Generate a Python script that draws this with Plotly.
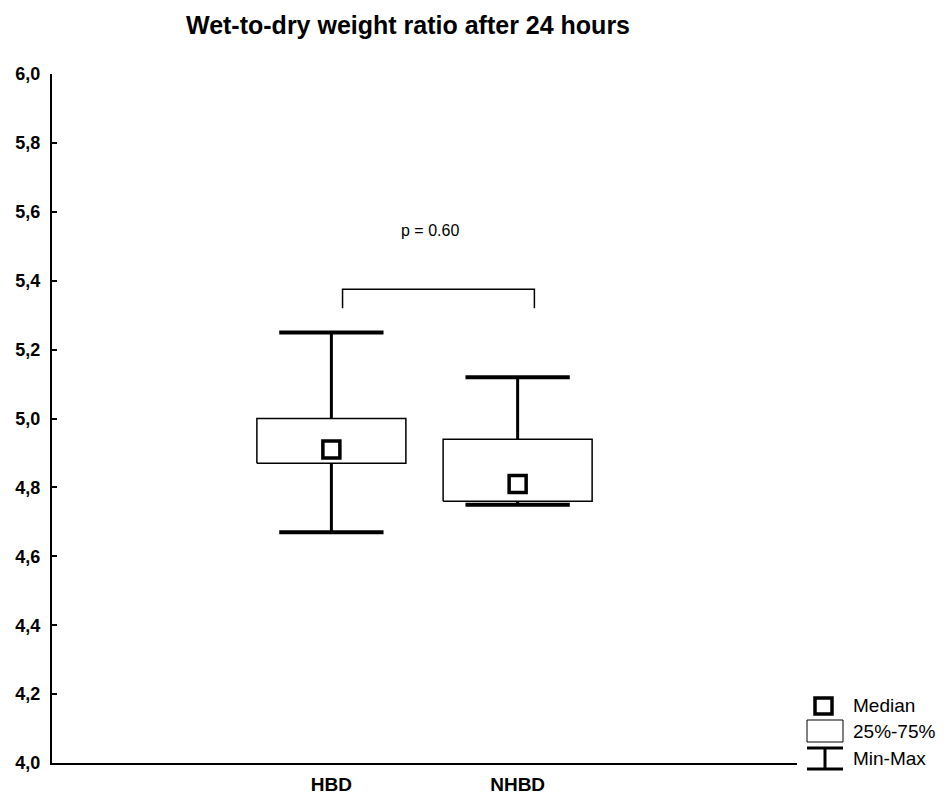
import plotly.graph_objects as go

categories = ["HBD", "NHBD"]
minimum = [4.67, 4.75]
q1 = [4.87, 4.76]
median = [4.91, 4.81]
q3 = [5.00, 4.94]
maximum = [5.25, 5.12]
y_tickvals = [4.0, 4.2, 4.4, 4.6, 4.8, 5.0, 5.2, 5.4, 5.6, 5.8, 6.0]
y_ticktext = ["4,0", "4,2", "4,4", "4,6", "4,8", "5,0", "5,2", "5,4", "5,6", "5,8", "6,0"]
p_text = "p = 0.60"
bracket_x = [0.06, 0.06, 1.09, 1.09]
bracket_y = [5.32, 5.375, 5.375, 5.32]

BOX_HALF = 0.4
CAP_HALF = 0.28
FONT = "Liberation Sans, Arial, sans-serif"

# page is rendered with an 8px body margin; figure coordinates = page - 8
OFF = 8

fig = go.Figure()
xs = list(range(len(categories)))

for i in xs:
    fig.add_trace(go.Scatter(x=[i, i, None, i, i], y=[q3[i], maximum[i], None, minimum[i], q1[i]],
                             mode="lines", line=dict(color="black", width=3), hoverinfo="skip",
                             showlegend=False))
    fig.add_trace(go.Scatter(x=[i - CAP_HALF, i + CAP_HALF, None, i - CAP_HALF, i + CAP_HALF],
                             y=[maximum[i], maximum[i], None, minimum[i], minimum[i]],
                             mode="lines", line=dict(color="black", width=4), hoverinfo="skip",
                             showlegend=False))
for i in xs:
    fig.add_trace(go.Scatter(x=[i - BOX_HALF, i + BOX_HALF, i + BOX_HALF, i - BOX_HALF, i - BOX_HALF],
                             y=[q1[i], q1[i], q3[i], q3[i], q1[i]],
                             mode="lines", fill="toself", fillcolor="white",
                             line=dict(color="black", width=1.5), hoverinfo="skip", showlegend=False))

fig.add_trace(go.Scatter(x=xs, y=median, mode="markers",
                         marker=dict(symbol="square", size=17, color="white",
                                     line=dict(color="black", width=3.5)),
                         showlegend=False))

fig.add_trace(go.Scatter(x=bracket_x, y=bracket_y, mode="lines",
                         line=dict(color="black", width=1.5), hoverinfo="skip", showlegend=False))

fig.add_annotation(x=0.527, y=5.546, xref="x", yref="y", text=p_text, showarrow=False,
                   font=dict(family=FONT, size=16, color="black"))

# custom legend (paper coords from page pixels)
def px(xp):
    return (xp - 52) / 745.0

def py(yp):
    return (763 - yp) / 689.0

shapes = [
    dict(type="rect", xref="paper", yref="paper", x0=px(815), x1=px(832), y0=py(714), y1=py(698),
         line=dict(color="black", width=3.5), fillcolor="white"),
    dict(type="rect", xref="paper", yref="paper", x0=px(807), x1=px(843), y0=py(742), y1=py(720),
         line=dict(color="black", width=1), fillcolor="white"),
    dict(type="line", xref="paper", yref="paper", x0=px(807), x1=px(843), y0=py(748), y1=py(748),
         line=dict(color="black", width=3)),
    dict(type="line", xref="paper", yref="paper", x0=px(807), x1=px(843), y0=py(769), y1=py(769),
         line=dict(color="black", width=3)),
    dict(type="line", xref="paper", yref="paper", x0=px(825), x1=px(825), y0=py(748), y1=py(769),
         line=dict(color="black", width=3)),
]
legend_labels = ["Median", "25%-75%", "Min-Max"]
legend_y = [705, 731, 758]
for lab, ly in zip(legend_labels, legend_y):
    fig.add_annotation(x=px(851), y=py(ly), xref="paper", yref="paper", text=lab, showarrow=False,
                       xanchor="left", yanchor="middle", font=dict(family=FONT, size=19, color="black"))

W, H = 946 - OFF, 798 - OFF
fig.update_layout(
    width=W, height=H, autosize=False,
    margin=dict(l=52 - OFF, r=946 - 797, t=74 - OFF, b=798 - 763, pad=0, autoexpand=False),
    paper_bgcolor="white", plot_bgcolor="white",
    shapes=shapes,
    title=dict(text="<b>Wet-to-dry weight ratio after 24 hours</b>", x=(408 - OFF) / W, xanchor="center",
               y=1 - (25 - OFF) / H, yanchor="middle", font=dict(family=FONT, size=25, color="black")),
    xaxis=dict(range=[-1.5, 2.5], tickvals=xs, ticktext=["<b>%s</b>" % c for c in categories],
               showline=True, linecolor="black", linewidth=2, ticks="", showgrid=False, zeroline=False,
               ticklabelstandoff=3, automargin=False,
               tickfont=dict(family=FONT, size=19, color="black")),
    yaxis=dict(range=[4.0, 6.0], tickvals=y_tickvals, ticktext=["<b>%s</b>" % t for t in y_ticktext],
               showline=True, linecolor="black", linewidth=2, ticks="inside", ticklen=5, tickwidth=1.5,
               tickcolor="black", showgrid=False, zeroline=False, ticklabelstandoff=6, automargin=False,
               tickfont=dict(family=FONT, size=18, color="black")),
)

fig.write_html("out.html")
